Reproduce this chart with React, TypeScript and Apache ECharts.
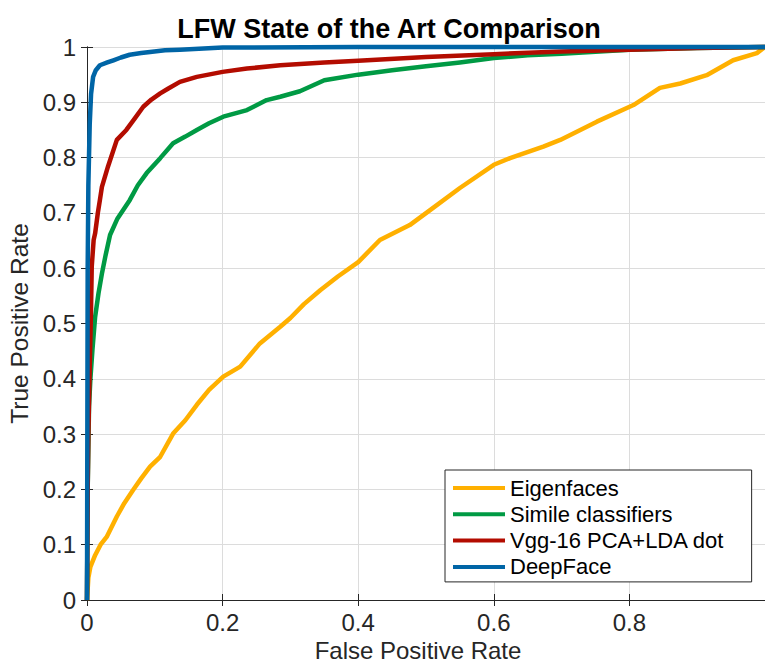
import React, { useEffect, useRef } from "react";
import * as echarts from "echarts";

const seriesNames = ["Eigenfaces", "Simile classifiers", "Vgg-16 PCA+LDA dot", "DeepFace"];
const seriesColors = ["#FFB000", "#009A44", "#B30C00", "#0065A6"];

const eigenX = [0, 0.002, 0.005, 0.012, 0.02, 0.029, 0.044, 0.055, 0.068, 0.08, 0.093, 0.108, 0.127, 0.145, 0.162, 0.18, 0.201, 0.226, 0.255, 0.285, 0.3, 0.32, 0.344, 0.37, 0.4, 0.432, 0.476, 0.506, 0.55, 0.6, 0.624, 0.673, 0.698, 0.752, 0.806, 0.845, 0.875, 0.914, 0.953, 0.988, 1];
const eigenY = [0, 0.04, 0.06, 0.081, 0.1, 0.114, 0.151, 0.175, 0.199, 0.22, 0.241, 0.259, 0.301, 0.325, 0.353, 0.38, 0.404, 0.422, 0.464, 0.494, 0.51, 0.535, 0.56, 0.585, 0.611, 0.651, 0.678, 0.705, 0.745, 0.787, 0.799, 0.82, 0.832, 0.865, 0.895, 0.926, 0.934, 0.949, 0.976, 0.989, 1];

const simileX = [0, 0.001, 0.003, 0.005, 0.008, 0.012, 0.017, 0.022, 0.027, 0.034, 0.045, 0.063, 0.075, 0.088, 0.108, 0.127, 0.145, 0.162, 0.18, 0.201, 0.236, 0.265, 0.285, 0.314, 0.35, 0.4, 0.45, 0.5, 0.55, 0.6, 0.65, 0.7, 0.8, 0.9, 1];
const simileY = [0, 0.2, 0.35, 0.4, 0.452, 0.512, 0.555, 0.59, 0.621, 0.66, 0.69, 0.723, 0.75, 0.772, 0.799, 0.826, 0.838, 0.85, 0.862, 0.874, 0.886, 0.904, 0.91, 0.92, 0.94, 0.95, 0.958, 0.965, 0.972, 0.98, 0.985, 0.988, 0.995, 0.998, 1];

const vggX = [0, 0.001, 0.002, 0.004, 0.006, 0.007, 0.0098, 0.012, 0.016, 0.019, 0.022, 0.031, 0.044, 0.058, 0.07, 0.083, 0.095, 0.108, 0.12, 0.137, 0.162, 0.2, 0.236, 0.285, 0.35, 0.4, 0.5, 0.6, 0.7, 0.8, 0.9, 0.95, 1];
const vggY = [0, 0.2, 0.3, 0.422, 0.53, 0.603, 0.651, 0.663, 0.7, 0.723, 0.747, 0.784, 0.832, 0.85, 0.87, 0.892, 0.905, 0.916, 0.925, 0.937, 0.946, 0.955, 0.961, 0.967, 0.972, 0.975, 0.982, 0.987, 0.992, 0.995, 0.998, 0.999, 1];

const deepX = [0, 0.0005, 0.001, 0.002, 0.004, 0.006, 0.009, 0.013, 0.019, 0.03, 0.039, 0.05, 0.063, 0.08, 0.093, 0.115, 0.137, 0.2, 0.4, 0.6, 0.8, 1];
const deepY = [0, 0.3, 0.6, 0.75, 0.86, 0.915, 0.946, 0.958, 0.967, 0.972, 0.976, 0.981, 0.986, 0.989, 0.991, 0.994, 0.995, 0.999, 1, 1, 1, 1];

const xTicks = [0, 0.2, 0.4, 0.6, 0.8, 1];
const yTicks = [0, 0.1, 0.2, 0.3, 0.4, 0.5, 0.6, 0.7, 0.8, 0.9, 1];

const FONT = "'Liberation Sans', Arial, Helvetica, sans-serif";

function zip(xs: number[], ys: number[]) {
  return xs.map((x, i) => [x, ys[i]]);
}

export default function App() {
  const ref = useRef<HTMLDivElement>(null);
  useEffect(() => {
    if (!ref.current) return;
    const chart = echarts.init(ref.current, undefined, { renderer: "svg" });
    const allData = [zip(eigenX, eigenY), zip(simileX, simileY), zip(vggX, vggY), zip(deepX, deepY)];
    const axisLine = { show: true, lineStyle: { color: "#262626", width: 1 } };
    const tick = { show: true, inside: true, length: 6, lineStyle: { color: "#262626" } };
    const split = { show: true, lineStyle: { color: "#dcdcdc", width: 1 } };
    const fmt = (v: number) => String(Number(v.toFixed(2)));
    chart.setOption({
      animation: false,
      backgroundColor: "#ffffff",
      title: {
        text: "LFW State of the Art Comparison",
        left: 384,
        textAlign: "center",
        top: 10,
        textStyle: { fontFamily: FONT, fontSize: 27, fontWeight: "bold", color: "#000" },
      },
      grid: { left: 87, top: 47, right: 0, bottom: 63, containLabel: false, outerBoundsMode: "none" },
      legend: {
        orient: "vertical",
        left: 445,
        top: 470,
        backgroundColor: "#ffffff",
        borderColor: "#262626",
        borderWidth: 1,
        borderRadius: 0,
        padding: [7, 27, 4, 8],
        itemWidth: 52,
        itemHeight: 4,
        itemGap: 4.3,
        icon: "rect",
        textStyle: { fontFamily: FONT, fontSize: 22, color: "#000", lineHeight: 22, padding: [0, 0, 0, 0] },
        data: seriesNames,
      },
      xAxis: [
        {
          type: "value",
          min: 0,
          max: 1,
          interval: 0.2,
          name: "False Positive Rate",
          nameLocation: "middle",
          nameGap: 33,
          nameTextStyle: { fontFamily: FONT, fontSize: 24, color: "#262626", padding: [0, 16, 0, 0] },
          axisLine,
          axisTick: tick,
          splitLine: split,
          axisLabel: {
            fontFamily: FONT,
            fontSize: 24,
            color: "#262626",
            margin: 10,
            showMaxLabel: false,
            formatter: (v: number) => (xTicks.includes(Number(v.toFixed(2))) ? fmt(v) : ""),
          },
        },
        {
          type: "value",
          position: "top",
          min: 0,
          max: 1,
          interval: 0.2,
          axisLine,
          axisTick: tick,
          splitLine: { show: false },
          axisLabel: { show: false },
        },
      ],
      yAxis: [
        {
          type: "value",
          min: 0,
          max: 1,
          interval: 0.1,
          name: "True Positive Rate",
          nameLocation: "middle",
          nameGap: 49,
          nameTextStyle: { fontFamily: FONT, fontSize: 24.5, color: "#262626" },
          axisLine,
          axisTick: tick,
          splitLine: split,
          axisLabel: {
            fontFamily: FONT,
            fontSize: 24,
            color: "#262626",
            margin: 11,
            formatter: (v: number) => (yTicks.includes(Number(v.toFixed(2))) ? fmt(v) : ""),
          },
        },
        {
          type: "value",
          position: "right",
          min: 0,
          max: 1,
          interval: 0.1,
          axisLine,
          axisTick: tick,
          splitLine: { show: false },
          axisLabel: { show: false },
        },
      ],
      series: seriesNames.map((name, i) => ({
        name,
        type: "line",
        data: allData[i],
        showSymbol: false,
        symbol: "none",
        clip: false,
        color: seriesColors[i],
        lineStyle: { width: 4.5, color: seriesColors[i], join: "round" },
        z: 2 + i,
      })),
    });
    return () => chart.dispose();
  }, []);
  return <div ref={ref} style={{ width: 765, height: 663, position: "absolute", left: 0, top: 0 }} />;
}
